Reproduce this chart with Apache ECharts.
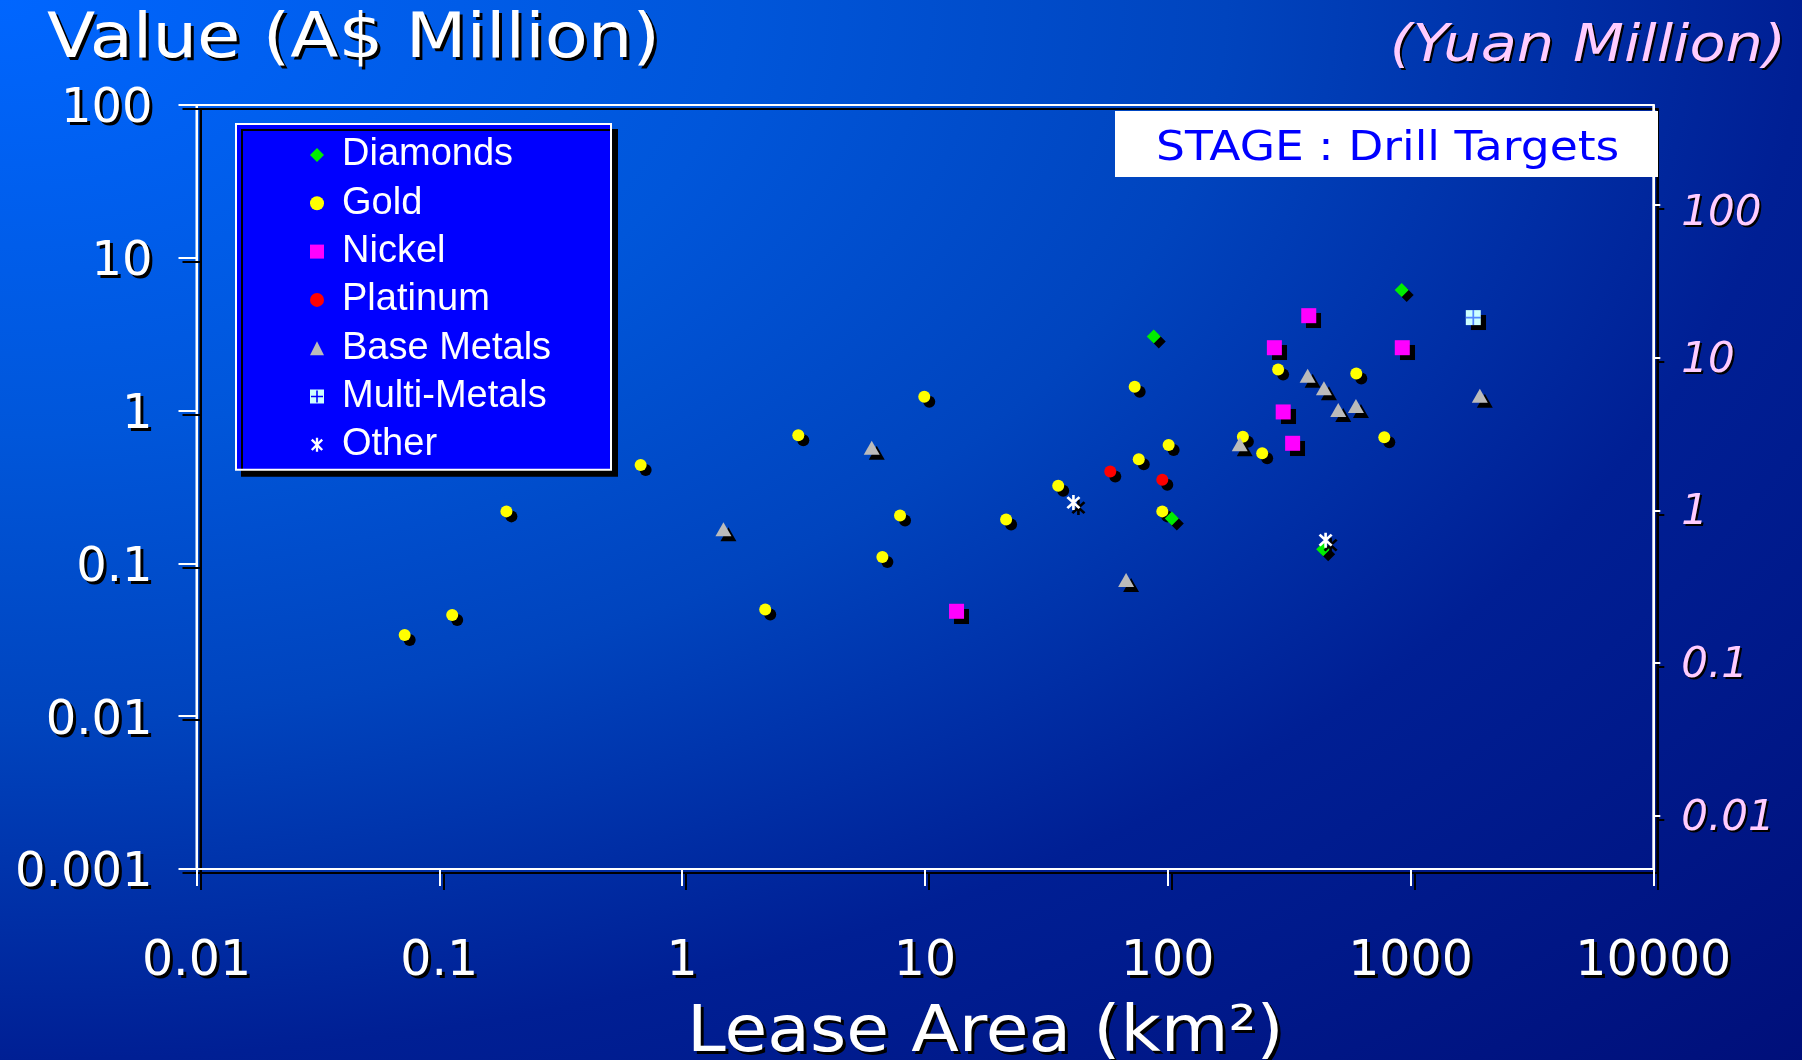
<!DOCTYPE html>
<html>
<head>
<meta charset="utf-8">
<script src="https://cdn.jsdelivr.net/npm/echarts@6/dist/echarts.min.js"></script>
<style>
html,body{margin:0;padding:0;background:#0030a8;}
#c{width:1802px;height:1060px;}
</style>
</head>
<body>
<div id="c"></div>
<script>
// ---- axis ticks ----
const xTicks = [0.01, 0.1, 1, 10, 100, 1000, 10000];
const yTicks = [0.001, 0.01, 0.1, 1, 10, 100];
const yuanTicks = [0.01, 0.1, 1, 10, 100];
const yuanPerAud = 4.5;

// ---- data: [lease area km2, value A$ million] ----
const gold = [
  [0.072, 0.034], [0.113, 0.046], [0.189, 0.219], [0.675, 0.44], [2.2, 0.050],
  [3.01, 0.69], [6.68, 0.110], [7.9, 0.206], [9.94, 1.23], [21.6, 0.194],
  [35.4, 0.322], [73.1, 1.43], [76.0, 0.48], [100.9, 0.596], [95.0, 0.219],
  [204, 0.675], [245, 0.525], [285, 1.86], [598, 1.75], [780, 0.669]
];
const diamonds = [[87.6, 3.06], [104, 0.197], [437, 0.124], [920, 6.16]];
const nickel = [[13.5, 0.0486], [275, 2.58], [381, 4.18], [299, 0.98], [327, 0.611], [925, 2.58]];
const platinum = [[58.0, 0.40], [95.0, 0.353]];
const baseMetals = [
  [1.48, 0.167], [6.04, 0.572], [67.4, 0.078], [198, 0.602], [377, 1.69],
  [440, 1.40], [504, 1.01], [596, 1.07], [1930, 1.25]
];
const multiMetals = [[1814, 4.06]];
const other = [[40.9, 0.250], [447, 0.142]];

const legendNames = ['Diamonds', 'Gold', 'Nickel', 'Platinum', 'Base Metals', 'Multi-Metals', 'Other'];

const asteriskPath = 'path://M8.7,2L11.3,2L11.3,18L8.7,18Z M3.1,5L5,3.1L16.9,15L15,16.9Z M15,3.1L16.9,5L5,16.9L3.1,15Z';
const crossPath = 'path://M6.2,0L7.8,0L7.8,14L6.2,14Z M0,6.2L14,6.2L14,7.8L0,7.8Z';
const multiLegendIcon = 'path://M0,0L14,0L14,14L0,14Z M6.2,1L6.2,6.2L1,6.2L1,7.8L6.2,7.8L6.2,13L7.8,13L7.8,7.8L13,7.8L13,6.2L7.8,6.2L7.8,1Z';

const fmt = v => String(+(+v).toPrecision(6));
const shadowLine = { shadowColor: '#000', shadowOffsetX: 4, shadowOffsetY: 4, shadowBlur: 0.5 };
const txtShadow = { textShadowColor: '#000', textShadowOffsetX: 3, textShadowOffsetY: 3, textShadowBlur: 0.5 };

function scatter(name, data, symbol, size, color, extra) {
  return Object.assign({
    name: name, type: 'scatter', data: data, symbol: symbol, symbolSize: size,
    itemStyle: { color: color, borderWidth: 0, shadowColor: '#000', shadowOffsetX: 5, shadowOffsetY: 5, shadowBlur: 0.5, opacity: 1 },
    emphasis: { disabled: true }, z: 3
  }, extra || {});
}

const chart = echarts.init(document.getElementById('c'), null, { renderer: 'canvas', width: 1802, height: 1060 });

const yuanLabelStyle = { color: '#FFCCFF', fontFamily: 'DejaVu Sans', fontStyle: 'italic', fontSize: 42 };
const audLabelStyle = { color: '#fff', fontFamily: 'DejaVu Sans', fontSize: 48 };

const option = {
  animation: false,
  backgroundColor: '#0030a8',
  grid: {
    left: 196.5, right: 148.7, top: 105, bottom: 191,
    show: true, borderColor: '#fff', borderWidth: 2, backgroundColor: 'transparent',
    shadowColor: '#000', shadowOffsetX: 4, shadowOffsetY: 4, shadowBlur: 0.5,
    containLabel: false, outerBoundsMode: 'none'
  },
  legend: {
    orient: 'vertical', left: 236, top: 124,
    padding: [11, 8, 5, 74],
    itemWidth: 14, itemHeight: 14, itemGap: 8.3,
    backgroundColor: '#0000FF', borderColor: '#fff', borderWidth: 2,
    shadowColor: '#000', shadowOffsetX: 6, shadowOffsetY: 6, shadowBlur: 0.5,
    selectedMode: false,
    textStyle: { color: '#fff', fontFamily: 'Liberation Sans', fontSize: 38, lineHeight: 40, width: 261, padding: [0, 0, 0, 13] },
    data: legendNames.map(n => n === 'Multi-Metals' ? { name: n, icon: multiLegendIcon } : { name: n })
  },
  xAxis: {
    type: 'log', logBase: 10, min: 0.01, max: 10000,
    axisLine: { show: true, onZero: false, lineStyle: Object.assign({ color: '#fff', width: 2 }, shadowLine) },
    axisTick: { show: true, inside: false, length: 17, customValues: xTicks, lineStyle: Object.assign({ color: '#fff', width: 2 }, shadowLine) },
    axisLabel: Object.assign({ customValues: xTicks, margin: 68.5, color: '#fff', fontFamily: 'DejaVu Sans', fontSize: 49, formatter: fmt }, txtShadow),
    splitLine: { show: false }, minorTick: { show: false }
  },
  yAxis: [
    {
      type: 'log', logBase: 10, min: 0.001, max: 100, position: 'left',
      axisLine: { show: true, onZero: false, lineStyle: Object.assign({ color: '#fff', width: 2 }, shadowLine) },
      axisTick: { show: true, inside: false, length: 18, customValues: yTicks, lineStyle: Object.assign({ color: '#fff', width: 2 }, shadowLine) },
      axisLabel: Object.assign({ customValues: yTicks, margin: 44,
        formatter: v => '{a|' + fmt(v) + '}',
        rich: { a: Object.assign({ padding: [10, 0, 0, 0] }, audLabelStyle, txtShadow) }
      }, audLabelStyle, txtShadow),
      splitLine: { show: false }, minorTick: { show: false }
    },
    {
      type: 'log', logBase: 10, min: 0.001 * yuanPerAud, max: 100 * yuanPerAud, position: 'right',
      axisLine: { show: true, onZero: false, lineStyle: Object.assign({ color: '#fff', width: 2 }, shadowLine) },
      axisTick: { show: true, inside: false, length: 7, customValues: yuanTicks, lineStyle: Object.assign({ color: '#fff', width: 2 }, shadowLine) },
      axisLabel: Object.assign({ customValues: yuanTicks, margin: 28, padding: [6, 0, 0, 0],
        formatter: v => (+v === 100 ? '{lo|' + fmt(v) + '}' : fmt(v)),
        rich: { lo: Object.assign({ padding: [13, 0, 0, 0] }, yuanLabelStyle) },
        textShadowColor: '#000', textShadowOffsetX: 2, textShadowOffsetY: 2, textShadowBlur: 0.5 }, yuanLabelStyle),
      splitLine: { show: false }, minorTick: { show: false }
    }
  ],
  series: [
    scatter('Gold', gold, 'circle', 12, '#FFFF00'),
    scatter('Nickel', nickel, 'rect', 15, '#FF00FF'),
    scatter('Platinum', platinum, 'circle', 12, '#FF0000'),
    scatter('Base Metals', baseMetals, 'triangle', [16, 14], '#BBBBBB'),
    scatter('Diamonds', diamonds, 'diamond', 14, '#00EE00'),
    scatter('Multi-Metals', multiMetals, 'rect', 15, '#CCFFFF'),
    {
      name: 'Multi-Metals cross', type: 'scatter', data: multiMetals, symbol: crossPath, symbolSize: 15,
      itemStyle: { color: '#3366FF' }, emphasis: { disabled: true }, silent: true, z: 4
    },
    scatter('Other', other, asteriskPath, [14, 15], '#FFFFFF', { z: 5 })
  ],
  graphic: [
    {
      type: 'rect', z: -100, silent: true, x: 0, y: 0, scaleX: 1802 / 1060, scaleY: 1,
      shape: { x: 0, y: 0, width: 1060, height: 1060 },
      style: {
        fill: {
          type: 'radial', x: 0, y: 0, r: 1.45,
          colorStops: [
            { offset: 0, color: '#0066FF' },
            { offset: 0.283, color: '#0056DA' },
            { offset: 0.469, color: '#0044BE' },
            { offset: 0.69, color: '#001F94' },
            { offset: 1, color: '#000E78' }
          ]
        }
      }
    },
    {
      type: 'text', z: 100, silent: true, x: 47, y: 41, scaleX: 1.136,
      style: Object.assign({ text: 'Value (A$ Million)', x: 0, y: 0, fill: '#fff', font: '62px "DejaVu Sans"',
        align: 'left', verticalAlign: 'middle', textAlign: 'left', textVerticalAlign: 'middle' }, txtShadow)
    },
    {
      type: 'text', z: 100, silent: true, x: 1786, y: 48, scaleX: 1.157,
      style: { text: '(Yuan Million)', x: 0, y: 0, fill: '#FFCCFF', font: 'italic 51px "DejaVu Sans"',
        align: 'right', verticalAlign: 'middle', textAlign: 'right', textVerticalAlign: 'middle',
        textShadowColor: '#000', textShadowOffsetX: 2, textShadowOffsetY: 2, textShadowBlur: 0.5 }
    },
    {
      type: 'rect', z: 100, silent: true, x: 0, y: 0,
      shape: { x: 1115, y: 111, width: 543, height: 66 },
      style: { fill: '#FFFFFF' }
    },
    {
      type: 'text', z: 101, silent: true, x: 1156, y: 149.5, scaleX: 1.14,
      style: { text: 'STAGE : Drill Targets', x: 0, y: 0, fill: '#0000FF', font: '40px "DejaVu Sans"',
        align: 'left', verticalAlign: 'middle', textAlign: 'left', textVerticalAlign: 'middle' }
    },
    {
      type: 'text', z: 100, silent: true, x: 687, y: 1034, scaleX: 1.087,
      style: Object.assign({ text: 'Lease Area (km\u00B2)', x: 0, y: 0, fill: '#fff', font: '64px "DejaVu Sans"',
        align: 'left', verticalAlign: 'middle', textAlign: 'left', textVerticalAlign: 'middle' }, txtShadow)
    }
  ]
};

chart.setOption(option);
</script>
</body>
</html>
